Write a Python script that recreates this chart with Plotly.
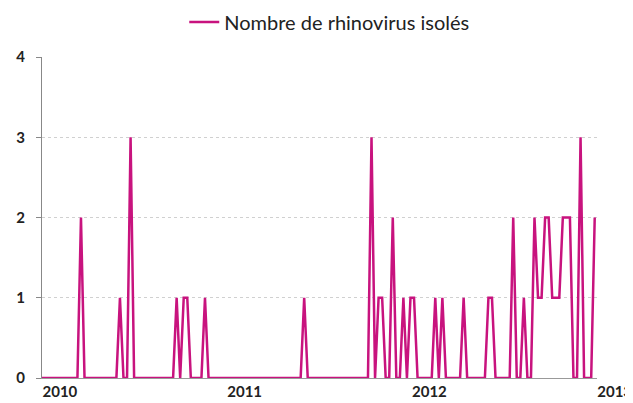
import pandas as pd
import plotly.graph_objects as go

# Weekly counts of isolated rhinoviruses
values_2010 = [0]*11 + [2] + [0]*10 + [1, 0, 0, 3] + [0]*12 + [1, 0, 1, 1, 0, 0, 0, 0, 1] + [0]*5
values_2011 = [0]*22 + [1] + [0]*18 + [3, 0, 1, 1, 0, 0, 2, 0, 0, 1, 0]
values_2012 = [1, 1, 0, 0, 0, 0, 0, 1, 0, 1, 0, 0, 0, 0, 0, 1, 0, 0, 0, 0, 0, 0, 1, 1,
               0, 0, 0, 0, 0, 2, 0, 0, 1, 0, 0, 2, 1, 1, 2, 2, 1, 1, 1, 2, 2, 2, 0, 0, 3,
               0, 0, 0, 2]
counts = values_2010 + values_2011 + values_2012
weeks = pd.date_range("2010-01-01", periods=len(counts), freq="7D")

series_name = "Nombre de rhinovirus isolés"
year_ticks = ["2010-01-01", "2011-01-01", "2012-01-01", "2013-01-01"]
year_labels = ["2010", "2011", "2012", "2013"]
y_ticks = [0, 1, 2, 3, 4]

fig = go.Figure()
fig.add_trace(go.Scatter(
    x=weeks, y=counts, mode="lines", name=series_name,
    line=dict(color="#C8137E", width=2.5),
))

W, H = 625, 395
font_family = "Lato, 'Open Sans', sans-serif"
fig.update_layout(
    width=W, height=H,
    margin=dict(l=34, r=36, t=49, b=25, autoexpand=False),
    paper_bgcolor="white", plot_bgcolor="white",
    font=dict(family=font_family, color="#222"),
    showlegend=True,
    legend=dict(orientation="h", x=0.514, xref="container", xanchor="center",
                y=1 - 14 / H, yref="container", yanchor="middle",
                font=dict(size=20, color="#222"), itemwidth=30,
                bgcolor="rgba(0,0,0,0)"),
    xaxis=dict(
        type="date", range=["2010-01-01", "2013-01-01 12:00"],
        tickvals=year_ticks, ticktext=year_labels,
        ticklabelposition="outside right", ticklabeloverflow="allow",
        tickfont=dict(size=15, color="#222", weight="bold"),
        showgrid=False, showline=True, linecolor="#999", linewidth=1,
        ticks="", zeroline=False, automargin=False,
    ),
    yaxis=dict(
        range=[0, 4], tickvals=y_ticks,
        tickfont=dict(size=15, color="#222", weight="bold"),
        showgrid=True, gridcolor="#d0d0d0", griddash="dot", gridwidth=1,
        showline=True, linecolor="#888", linewidth=1,
        ticks="outside", ticklen=5, tickcolor="#888",
        ticklabelstandoff=8, zeroline=False, automargin=False,
    ),
)

fig.write_html("out.html")
